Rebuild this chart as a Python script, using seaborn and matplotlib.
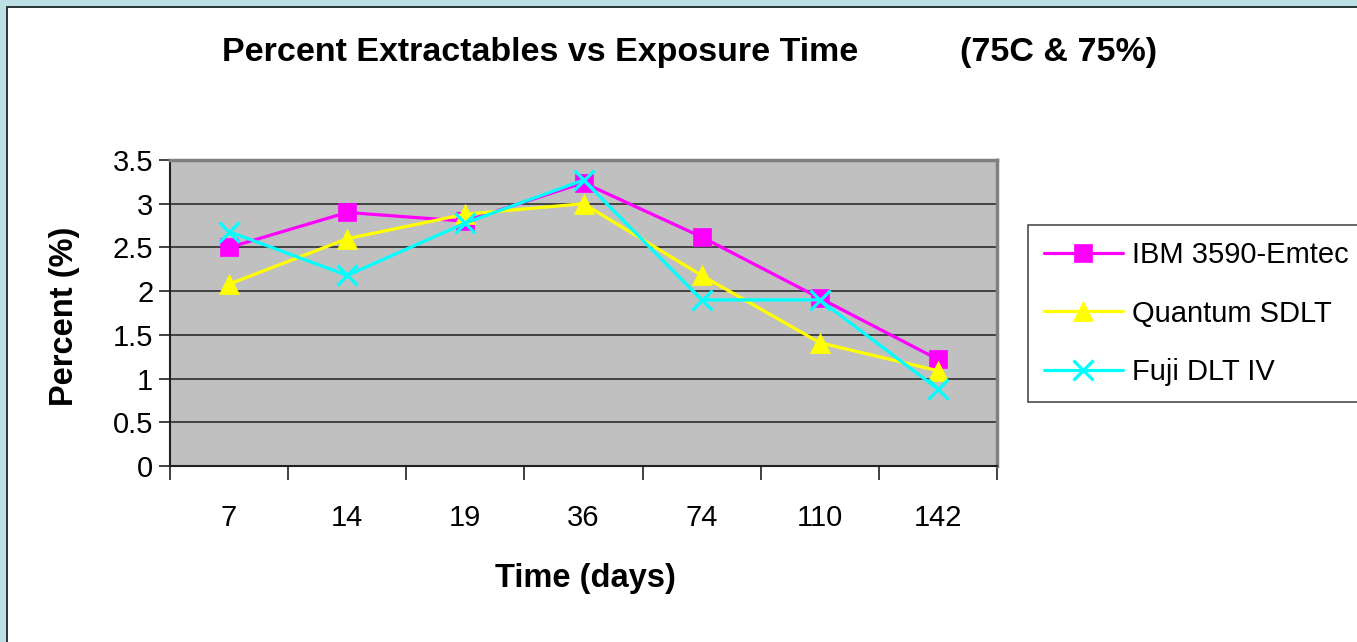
import matplotlib
matplotlib.use("Agg")
import matplotlib.pyplot as plt
import seaborn as sns
import pandas as pd
from matplotlib.patches import Rectangle
from matplotlib.lines import Line2D

days = ["7", "14", "19", "36", "74", "110", "142"]
ibm = [2.5, 2.9, 2.8, 3.24, 2.62, 1.92, 1.22]
quantum = [2.08, 2.6, 2.88, 3.0, 2.18, 1.41, 1.09]
fuji = [2.68, 2.18, 2.78, 3.27, 1.9, 1.9, 0.88]
series_names = ["IBM 3590-Emtec", "Quantum SDLT", "Fuji DLT IV"]
yticks = [0, 0.5, 1, 1.5, 2, 2.5, 3, 3.5]

sns.set_theme(style="white")
plt.rcParams['font.family'] = ['Liberation Sans', 'DejaVu Sans']
plt.rcParams['text.color'] = 'black'
plt.rcParams['xtick.color'] = 'black'
plt.rcParams['ytick.color'] = 'black'
plt.rcParams['axes.labelcolor'] = 'black'

fig = plt.figure(figsize=(13.57, 6.42), dpi=100)
fig.patch.set_facecolor("white")
W, H = 1357, 642

# outer frame (teal band with dark line)
fig.patches.append(Rectangle((0, 0), 6 / W, 1, transform=fig.transFigure, facecolor="#BCE0E3", edgecolor="none", zorder=0))
fig.patches.append(Rectangle((0, 1 - 6 / H), 1, 6 / H, transform=fig.transFigure, facecolor="#BCE0E3", edgecolor="none", zorder=0))
fig.lines.append(Line2D([6.5 / W, 6.5 / W], [0, 1 - 6.5 / H], transform=fig.transFigure, color="#2a3535", lw=1.4))
fig.lines.append(Line2D([6.5 / W, 1], [1 - 6.5 / H, 1 - 6.5 / H], transform=fig.transFigure, color="#2a3535", lw=1.4))

left, right, top, bottom = 170, 997, 160, 466
ax = fig.add_axes([left / W, 1 - bottom / H, (right - left) / W, (bottom - top) / H])
ax.set_facecolor("#C0C0C0")

x = list(range(len(days)))
df = pd.DataFrame({"x": x * 3,
                   "y": ibm + quantum + fuji,
                   "series": sum([[n] * len(days) for n in series_names], [])})

colors = {"IBM 3590-Emtec": "#FF00FF", "Quantum SDLT": "#FFFF00", "Fuji DLT IV": "#00FFFF"}
markers = {"IBM 3590-Emtec": "s", "Quantum SDLT": "^", "Fuji DLT IV": "x"}
msizes = {"IBM 3590-Emtec": 12.5, "Quantum SDLT": 14.5, "Fuji DLT IV": 14}

for name in series_names:
    sub = df[df["series"] == name]
    sns.lineplot(data=sub, x="x", y="y", ax=ax, color=colors[name], lw=2.3,
                 marker=markers[name], markersize=msizes[name],
                 markeredgecolor=colors[name], markeredgewidth=2.3 if name == "Fuji DLT IV" else 0.5,
                 label=name, zorder=3)

ax.set_xlim(-0.5, len(days) - 0.5)
ax.set_ylim(0, 3.5)
ax.set_yticks(yticks)
ax.set_yticklabels([f"{t:g}" for t in yticks], fontsize=21)
ax.yaxis.grid(True, color="#202020", lw=1.1)
ax.set_axisbelow(True)
ax.set_xticks([i - 0.5 for i in range(len(days) + 1)])
ax.set_xticklabels([])
ax.set_xticks(x, minor=True)
ax.set_xticklabels(days, minor=True, fontsize=21)
ax.tick_params(axis="x", which="major", direction="out", length=10, width=1.2, color="#202020", bottom=True)
ax.tick_params(axis="x", which="minor", length=0, pad=27)
ax.tick_params(axis="y", direction="out", length=8, width=1.2, color="#202020", left=True, pad=4)

for s in ["left", "bottom"]:
    ax.spines[s].set_color("#202020")
    ax.spines[s].set_linewidth(1.5)
for s in ["top", "right"]:
    ax.spines[s].set_color("#808080")
    ax.spines[s].set_linewidth(2.5)

ax.set_xlabel("")
ax.set_ylabel("")
fig.text(585 / W, 1 - 578 / H, "Time (days)", ha="center", va="center", fontsize=23.5, fontweight="bold")
fig.text(65 / W, 1 - 316 / H, "Percent (%)", ha="center", va="center", fontsize=23.5, fontweight="bold", rotation=90)

fig.text(222 / W, 1 - 52 / H, "Percent Extractables vs Exposure Time", ha="left", va="center", fontsize=24.5, fontweight="bold")
fig.text(960 / W, 1 - 52 / H, "(75C & 75%)", ha="left", va="center", fontsize=24.5, fontweight="bold")

ax.get_legend().remove()
handles, labels = ax.get_legend_handles_labels()
leg = fig.legend(handles, labels, loc="upper left",
                 bbox_to_anchor=(1028 / W, 1 - 225 / H), bbox_transform=fig.transFigure,
                 fontsize=21, frameon=True, fancybox=False, edgecolor="#202020",
                 handlelength=2.7, labelspacing=1.05, borderpad=0.55, handletextpad=0.3,
                 borderaxespad=0)
leg.get_frame().set_linewidth(1.2)
for t in leg.get_texts():
    t.set_color("black")

fig.savefig("out.png", dpi=100)
